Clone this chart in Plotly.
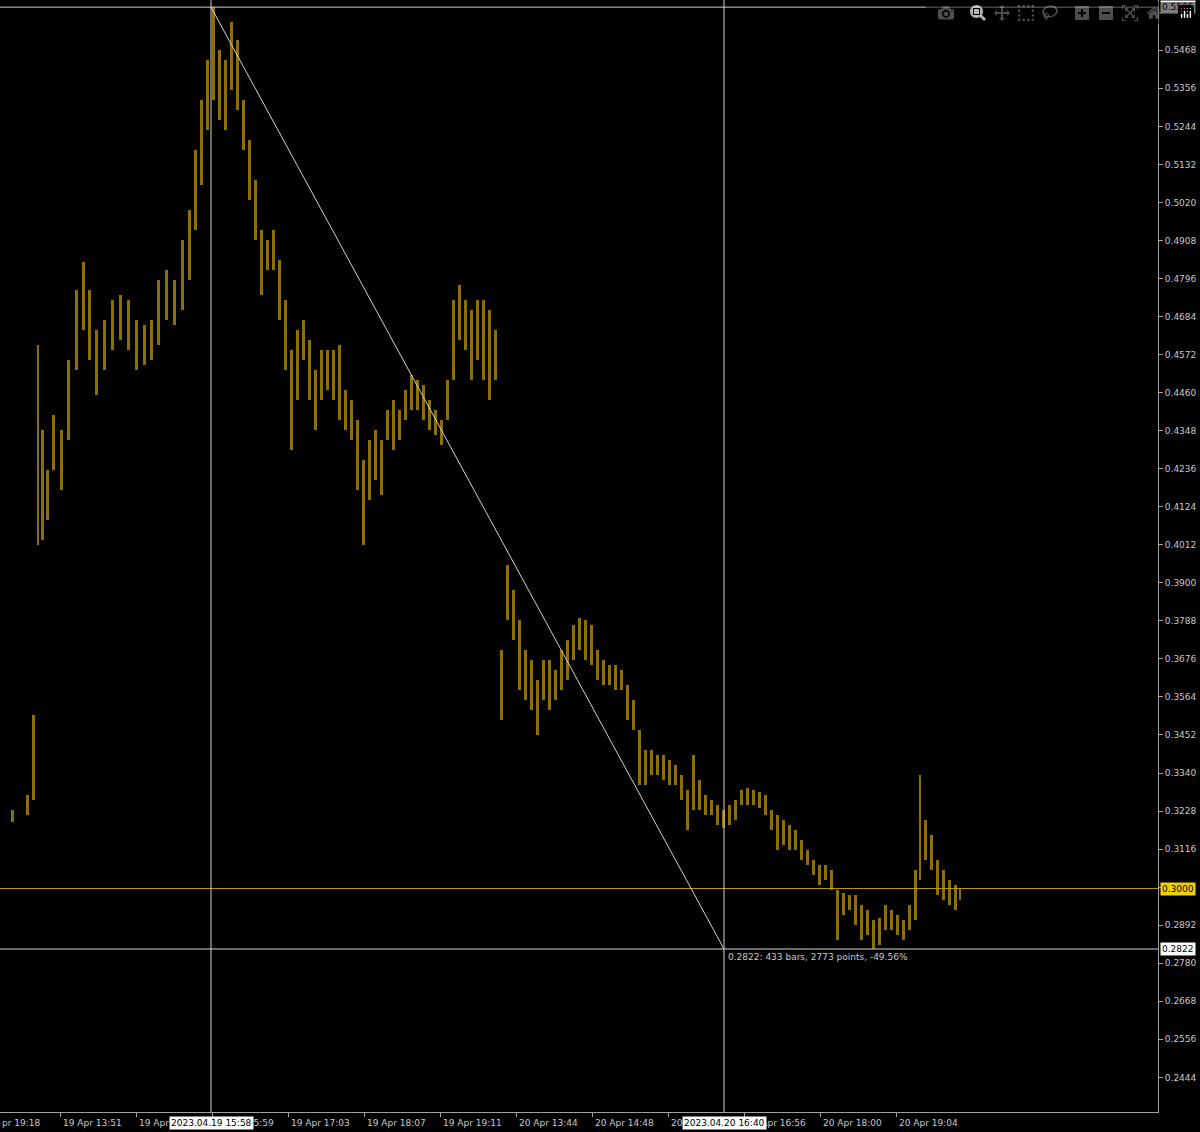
import plotly.graph_objects as go

# bar position (chart bar index) where each sampled block starts; last value is the end
seg_start = [0, 25, 30, 36, 40, 45, 50, 57, 65, 72, 80, 86, 93, 100, 108, 116, 124, 132, 140, 148,
             155, 162, 170, 178, 186, 192, 198, 204, 210, 216, 222, 228, 234, 240, 246, 252, 258, 264,
             270, 276, 282, 288, 294, 300, 306, 312, 318, 324, 330, 336, 342, 348, 354, 360, 366, 372,
             378, 384, 390, 396, 402, 408, 414, 420, 426, 432, 438, 444, 450, 456, 462, 468, 474, 480,
             486, 492, 499, 504, 510, 516, 522, 528, 534, 540, 546, 552, 558, 564, 570, 576, 582, 588,
             594, 600, 606, 612, 618, 624, 630, 636, 642, 648, 654, 660, 666, 672, 678, 684, 690, 696,
             702, 708, 714, 720, 726, 732, 738, 744, 750, 756, 762, 768, 774, 780, 786, 792, 798, 804,
             810, 816, 822, 828, 834, 840, 846, 852, 858, 864, 870, 876, 882, 888, 894, 900, 906, 912,
             918, 922, 928, 934, 940, 946, 952, 958, 962]

high = [0.3231, 0.3276, 0.3511, 0.4600, 0.4350, 0.4232, 0.4394, 0.4350, 0.4556, 0.4762, 0.4845, 0.4762,
        0.4644, 0.4674, 0.4733, 0.4747, 0.4733, 0.4674, 0.4659, 0.4674, 0.4792, 0.4821, 0.4792, 0.4909,
        0.4998, 0.5174, 0.5322, 0.5439, 0.5595, 0.5469, 0.5439, 0.5551, 0.5498, 0.5322, 0.5204, 0.5086,
        0.4939, 0.4909, 0.4939, 0.4851, 0.4733, 0.4586, 0.4644, 0.4674, 0.4615, 0.4527, 0.4586, 0.4586,
        0.4586, 0.4600, 0.4468, 0.4438, 0.4380, 0.4262, 0.4321, 0.4350, 0.4321, 0.4409, 0.4438, 0.4409,
        0.4468, 0.4512, 0.4497, 0.4482, 0.4438, 0.4409, 0.4380, 0.4497, 0.4733, 0.4777, 0.4733, 0.4703,
        0.4733, 0.4733, 0.4703, 0.4644, 0.3702, 0.3953, 0.3880, 0.3791, 0.3702, 0.3673, 0.3614, 0.3673,
        0.3673, 0.3643, 0.3702, 0.3732, 0.3776, 0.3797, 0.3791, 0.3776, 0.3702, 0.3673, 0.3658, 0.3658,
        0.3643, 0.3599, 0.3555, 0.3467, 0.3408, 0.3408, 0.3393, 0.3393, 0.3379, 0.3364, 0.3334, 0.3290,
        0.3393, 0.3320, 0.3276, 0.3261, 0.3246, 0.3231, 0.3246, 0.3261, 0.3290, 0.3296, 0.3290, 0.3284,
        0.3276, 0.3231, 0.3216, 0.3202, 0.3187, 0.3172, 0.3143, 0.3114, 0.3084, 0.3069, 0.3069, 0.3055,
        0.2996, 0.2987, 0.2981, 0.2981, 0.2952, 0.2937, 0.2908, 0.2914, 0.2952, 0.2937, 0.2922, 0.2908,
        0.2952, 0.3055, 0.3334, 0.3202, 0.3158, 0.3084, 0.3055, 0.3025, 0.3010, 0.3002]

low = [0.3196, 0.3216, 0.3261, 0.4012, 0.4026, 0.4085, 0.4232, 0.4173, 0.4321, 0.4527, 0.4644, 0.4556,
       0.4453, 0.4527, 0.4586, 0.4615, 0.4586, 0.4527, 0.4541, 0.4556, 0.4600, 0.4674, 0.4659, 0.4703,
       0.4792, 0.4939, 0.5071, 0.5233, 0.5322, 0.5263, 0.5233, 0.5351, 0.5292, 0.5174, 0.5027, 0.4909,
       0.4747, 0.4821, 0.4821, 0.4674, 0.4527, 0.4291, 0.4438, 0.4556, 0.4438, 0.4350, 0.4438, 0.4468,
       0.4438, 0.4380, 0.4350, 0.4321, 0.4173, 0.4012, 0.4144, 0.4203, 0.4159, 0.4321, 0.4291, 0.4321,
       0.4380, 0.4409, 0.4409, 0.4380, 0.4350, 0.4335, 0.4306, 0.4380, 0.4497, 0.4615, 0.4586, 0.4497,
       0.4556, 0.4497, 0.4438, 0.4497, 0.3496, 0.3791, 0.3732, 0.3585, 0.3555, 0.3526, 0.3452, 0.3555,
       0.3526, 0.3555, 0.3585, 0.3614, 0.3673, 0.3702, 0.3673, 0.3658, 0.3614, 0.3599, 0.3599, 0.3585,
       0.3585, 0.3496, 0.3467, 0.3305, 0.3305, 0.3334, 0.3334, 0.3320, 0.3305, 0.3305, 0.3261, 0.3172,
       0.3231, 0.3231, 0.3216, 0.3216, 0.3187, 0.3178, 0.3187, 0.3202, 0.3246, 0.3246, 0.3246, 0.3237,
       0.3216, 0.3172, 0.3114, 0.3128, 0.3114, 0.3114, 0.3084, 0.3069, 0.3040, 0.3010, 0.3025, 0.2996,
       0.2849, 0.2922, 0.2937, 0.2893, 0.2849, 0.2864, 0.2822, 0.2834, 0.2878, 0.2878, 0.2864, 0.2849,
       0.2878, 0.2908, 0.3025, 0.3084, 0.3055, 0.2981, 0.2966, 0.2952, 0.2937, 0.2966]

price_ticks = [0.2444, 0.2556, 0.2668, 0.2780, 0.2892, 0.3004, 0.3116, 0.3228, 0.3340, 0.3452, 0.3564,
               0.3676, 0.3788, 0.3900, 0.4012, 0.4124, 0.4236, 0.4348, 0.4460, 0.4572, 0.4684, 0.4796,
               0.4908, 0.5020, 0.5132, 0.5244, 0.5356, 0.5468]
time_ticks = [60, 136, 212, 288, 364, 440, 516, 592, 668, 744, 820, 896]
time_labels = ["19 Apr 13:51", "19 Apr 14:55", "19 Apr 15:59", "19 Apr 17:03", "19 Apr 18:07",
               "19 Apr 19:11", "20 Apr 13:44", "20 Apr 14:48", "20 Apr 15:52", "20 Apr 16:56",
               "20 Apr 18:00", "20 Apr 19:04"]

peak_x, peak_price = 211, 0.5595
low_x, low_price = 724, 0.2822
bid_price = 0.3000

X_MAX, Y_MIN, Y_MAX = 1158, 0.2342, 0.5616
GOLD = "#8c7000"
GRID_TXT = "#c8c8c8"
FONT = "DejaVu Sans"

centers = [(a + b) / 2 for a, b in zip(seg_start[:-1], seg_start[1:])]
widths = [min(b - a, 6) * 0.5 for a, b in zip(seg_start[:-1], seg_start[1:])]
spans = [h - l for h, l in zip(high, low)]

fig = go.Figure()
fig.add_trace(go.Bar(x=centers, y=spans, base=low, width=widths,
                     marker=dict(color=GOLD, line=dict(width=0)), hoverinfo="skip"))

# crosshair / measuring lines
fig.add_shape(type="line", x0=0, x1=1, xref="paper", y0=peak_price, y1=peak_price,
              line=dict(color="#d0d0d0", width=1))
fig.add_shape(type="line", x0=0, x1=1, xref="paper", y0=low_price, y1=low_price,
              line=dict(color="#d0d0d0", width=1))
fig.add_shape(type="line", x0=0, x1=1, xref="paper", y0=bid_price, y1=bid_price,
              line=dict(color="#b89a00", width=1))
for vx in (peak_x, low_x):
    fig.add_shape(type="line", x0=vx, x1=vx, y0=0, y1=1, yref="paper",
                  line=dict(color="#d0d0d0", width=1))
fig.add_shape(type="line", x0=peak_x, x1=low_x, y0=peak_price, y1=low_price,
              line=dict(color="#d0d0d0", width=1))

# price tags on the right axis
for p, bg in ((peak_price, "#ffffff"), (low_price, "#ffffff"), (bid_price, "#f0d000")):
    fig.add_annotation(x=1, xref="paper", y=p, text=f"{p:.4f}", showarrow=False, xanchor="left",
                       xshift=2, bgcolor=bg, font=dict(color="#000000", size=9, family=FONT),
                       borderpad=1)

# time tags on the bottom axis
for tx, label in zip(time_ticks, time_labels):
    fig.add_annotation(x=tx, y=0, yref="paper", text=label, showarrow=False, xanchor="left",
                       yanchor="top", yshift=-4, xshift=1,
                       font=dict(color=GRID_TXT, size=9, family=FONT))
fig.add_annotation(x=0, y=0, yref="paper", text="pr 19:18", showarrow=False, xanchor="left",
                   yanchor="top", yshift=-4, font=dict(color=GRID_TXT, size=9, family=FONT))
for tx, label in ((peak_x, "2023.04.19 15:58"), (low_x, "2023.04.20 16:40")):
    fig.add_annotation(x=tx, y=0, yref="paper", text=label, showarrow=False, xanchor="center",
                       yanchor="top", yshift=-4, bgcolor="#ffffff",
                       font=dict(color="#000000", size=9, family=FONT))

fig.add_annotation(x=low_x, y=low_price, text="0.2822: 433 bars, 2773 points, -49.56%",
                   showarrow=False, xanchor="left", yanchor="top", xshift=2, yshift=-1,
                   font=dict(color=GRID_TXT, size=9, family=FONT))

fig.update_layout(
    width=1200, height=1132, paper_bgcolor="#000000", plot_bgcolor="#000000",
    margin=dict(l=0, r=42, t=0, b=20, autoexpand=False), showlegend=False, bargap=0,
    xaxis=dict(range=[0, X_MAX], showgrid=False, zeroline=False, showticklabels=False,
               ticks="outside", tickvals=time_ticks, tickcolor="#a0a0a0", ticklen=4,
               showline=True, linecolor="#a0a0a0", fixedrange=True),
    yaxis=dict(range=[Y_MIN, Y_MAX], side="right", showgrid=False, zeroline=False,
               tickvals=price_ticks, ticktext=[f"{t:.4f}" for t in price_ticks],
               ticks="outside", ticklen=4, tickcolor="#a0a0a0",
               tickfont=dict(color=GRID_TXT, size=9, family=FONT),
               showline=True, linecolor="#a0a0a0"),
)

fig.write_html("out.html", post_script="document.body.style.margin='0';"
                                       "document.body.style.background='#000';")
